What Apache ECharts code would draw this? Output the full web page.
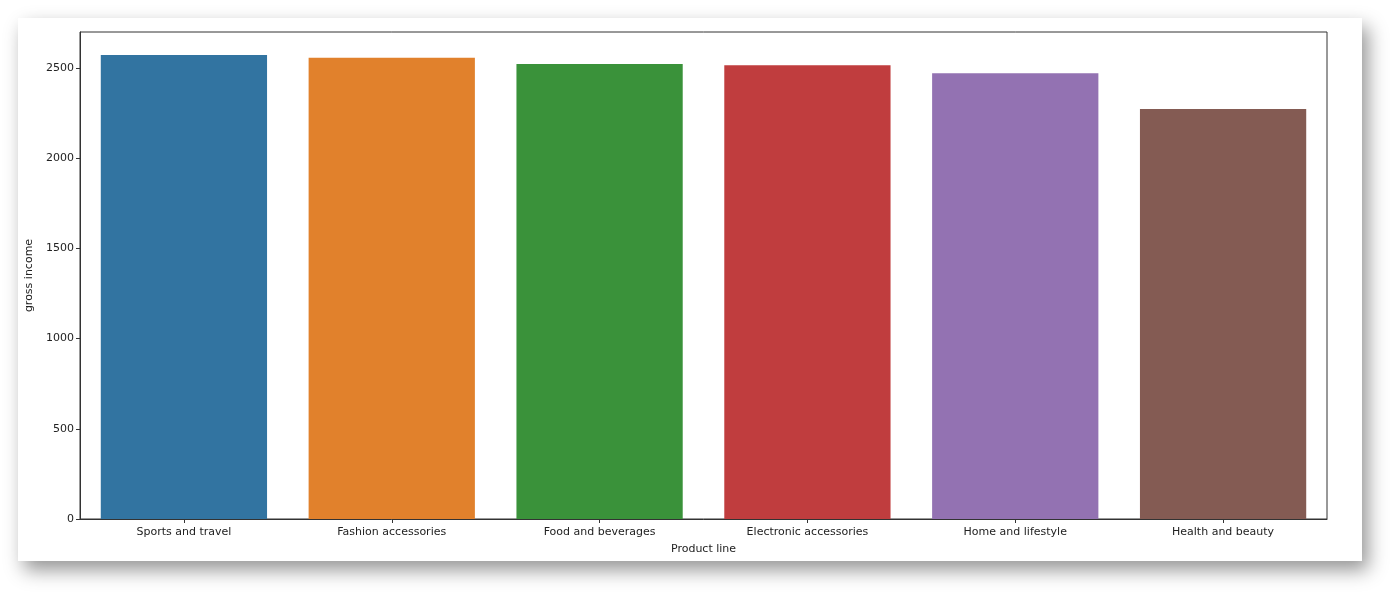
<!DOCTYPE html>
<html>
<head>
<meta charset="utf-8">
<script src="https://cdn.jsdelivr.net/npm/echarts@6/dist/echarts.min.js"></script>
<style>
  html, body { margin: 0; padding: 0; background: #ffffff; }
  #card { position: absolute; left: 18px; top: 18px; width: 1344px; height: 543px; background: #fff;
          box-shadow: 6px 9px 18px rgba(0,0,0,0.42); }
  #chart { position: absolute; left: 0; top: 0; width: 1400px; height: 600px; }
</style>
</head>
<body>
<div id="card"></div>
<div id="chart"></div>
<script>
const categories = ["Sports and travel", "Fashion accessories", "Food and beverages", "Electronic accessories", "Home and lifestyle", "Health and beauty"];
const grossIncome = [2572, 2557, 2522, 2515, 2471, 2273];
const barColors = ["#3274a1", "#e1812c", "#3a923a", "#c03d3e", "#9372b2", "#845b53"];
const yTicks = [0, 500, 1000, 1500, 2000, 2500];

const chart = echarts.init(document.getElementById('chart'), null, { renderer: 'canvas' });
const font = "DejaVu Sans";
chart.setOption({
  backgroundColor: 'transparent',
  animation: false,
  grid: { left: 80, right: 73, top: 32, bottom: 81, show: true, borderColor: '#333', borderWidth: 1, backgroundColor: 'transparent' },
  xAxis: {
    type: 'category',
    data: categories,
    name: 'Product line',
    nameLocation: 'middle',
    nameGap: 25,
    nameTextStyle: { fontFamily: font, fontSize: 11, color: '#222' },
    axisLine: { lineStyle: { color: '#333' } },
    axisTick: { show: true, alignWithLabel: true, length: 4, lineStyle: { color: '#333' } },
    axisLabel: { fontFamily: font, fontSize: 11, color: '#222', margin: 8, interval: 0 }
  },
  yAxis: {
    type: 'value',
    min: 0, max: 2700, interval: 500,
    name: 'gross income',
    nameLocation: 'middle',
    nameGap: 42,
    nameTextStyle: { fontFamily: font, fontSize: 11, color: '#222' },
    axisLine: { show: true, lineStyle: { color: '#333' } },
    axisTick: { show: true, length: 4, customValues: yTicks, lineStyle: { color: '#333' } },
    axisLabel: { fontFamily: font, fontSize: 11, color: '#222', margin: 6, customValues: yTicks,
      formatter: v => String(v) },
    splitLine: { show: false }
  },
  series: [{
    type: 'bar',
    barCategoryGap: '20%',
    data: grossIncome.map((v, i) => ({ value: v, itemStyle: { color: barColors[i] } }))
  }]
});
</script>
</body>
</html>
